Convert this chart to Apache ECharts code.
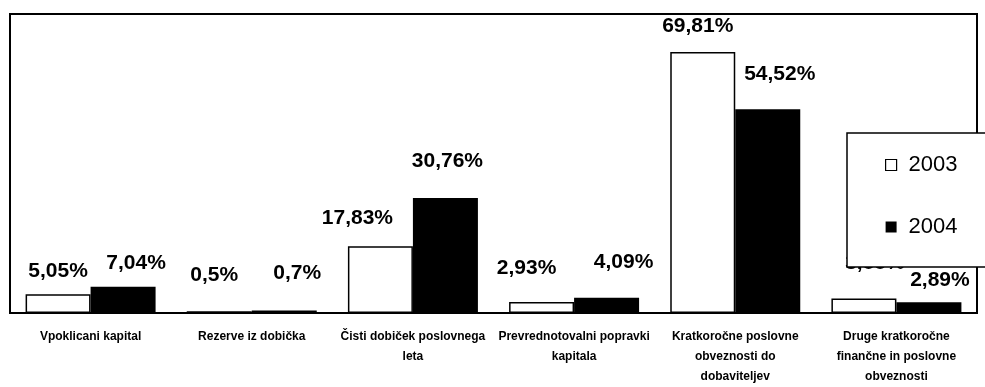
<!DOCTYPE html>
<html>
<head>
<meta charset="utf-8">
<script src="https://cdn.jsdelivr.net/npm/echarts@6/dist/echarts.min.js"></script>
<style>
  html, body { margin: 0; padding: 0; background: #fff; }
  #chart { width: 985px; height: 387px; }
</style>
</head>
<body>
<div id="chart"></div>
<script>
var categories = [
  'Vpoklicani kapital',
  'Rezerve iz dobička',
  'Čisti dobiček poslovnega\nleta',
  'Prevrednotovalni popravki\nkapitala',
  'Kratkoročne poslovne\nobveznosti do\ndobaviteljev',
  'Druge kratkoročne\nfinančne in poslovne\nobveznosti'
];
var values2003 = [5.05, 0.5, 17.83, 2.93, 69.81, 3.88];
var values2004 = [7.04, 0.7, 30.76, 4.09, 54.52, 2.89];

// where the labels sit relative to the top of each bar
var shift2003 = [[0, -12], [-5, -25], [-23, -18], [-15, -23], [-5, -15], [11, -25]];
var shift2004 = [[13, -13], [13, -27], [2, -26], [17, -25], [12, -25], [11, -11]];

var font = "'Liberation Sans', Arial, sans-serif";

function pct(p) {
  return String(p.value).replace('.', ',') + '%';
}

function withLabels(values, shifts) {
  return values.map(function (v, i) {
    return { value: v, label: { offset: shifts[i] } };
  });
}

var chart = echarts.init(document.getElementById('chart'));

var option = {
  animation: false,
  backgroundColor: '#fff',
  grid: {
    left: 10,
    right: 8,
    top: 14,
    bottom: 71,
    show: true,
    borderColor: '#000',
    borderWidth: 2,
    backgroundColor: 'transparent'
  },
  legend: {
    orient: 'vertical',
    left: 847,
    top: 133,
    padding: [21, 40, 29, 38],
    itemGap: 40,
    itemWidth: 11,
    itemHeight: 11,
    icon: 'rect',
    backgroundColor: '#fff',
    borderColor: '#000',
    borderWidth: 1.5,
    textStyle: { fontFamily: font, fontSize: 22, color: '#000', padding: [0, 0, 0, 7] },
    data: [
      { name: '2003', itemStyle: { color: '#fff', borderColor: '#000', borderWidth: 1.2 } },
      { name: '2004', itemStyle: { color: '#000' } }
    ]
  },
  xAxis: {
    type: 'category',
    data: categories,
    axisLine: { show: true, lineStyle: { color: '#000', width: 2 } },
    axisTick: { show: false },
    axisLabel: {
      interval: 0,
      margin: 14,
      fontFamily: font,
      fontWeight: 'bold',
      fontSize: 12,
      lineHeight: 20,
      color: '#000'
    }
  },
  yAxis: {
    type: 'value',
    min: 0,
    max: 80,
    show: false,
    splitLine: { show: false }
  },
  series: [
    {
      name: '2003',
      type: 'bar',
      barWidth: 65,
      barGap: '0%',
      data: withLabels(values2003, shift2003),
      itemStyle: { color: '#fff', borderColor: '#000', borderWidth: 1.5 },
      label: {
        show: true,
        position: 'top',
        distance: 0,
        formatter: pct,
        fontFamily: font,
        fontWeight: 'bold',
        fontSize: 21,
        color: '#000'
      }
    },
    {
      name: '2004',
      type: 'bar',
      barWidth: 65,
      barGap: '0%',
      data: withLabels(values2004, shift2004),
      itemStyle: { color: '#000' },
      label: {
        show: true,
        position: 'top',
        distance: 0,
        formatter: pct,
        fontFamily: font,
        fontWeight: 'bold',
        fontSize: 21,
        color: '#000'
      }
    }
  ]
};

chart.setOption(option);
</script>
</body>
</html>
